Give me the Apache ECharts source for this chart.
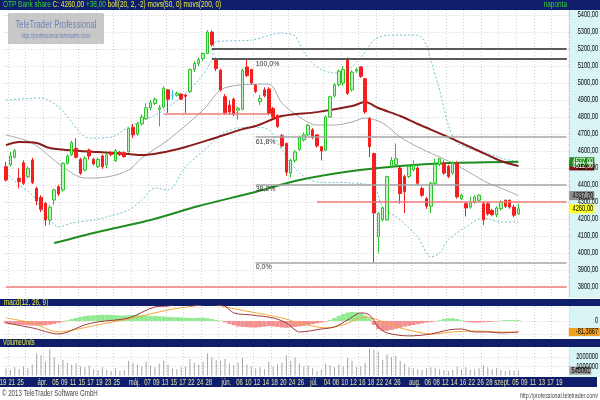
<!DOCTYPE html>
<html><head><meta charset="utf-8">
<script src="https://cdn.jsdelivr.net/npm/echarts@6/dist/echarts.min.js"></script>
<style>html,body{margin:0;padding:0;background:#fff}#c{width:600px;height:400px}</style>
</head><body><div id="c"></div>
<script>
const FONT = '"Liberation Sans",Arial,sans-serif';

// ---- categories (trading days, 2013) ----
const tradingDays = {
  '03': [19,20,21,22,25,26,27,28,29],
  '04': [2,3,4,5,8,9,10,11,12,15,16,17,18,19,22,23,24,25,26,29,30],
  '05': [2,3,6,7,8,9,10,13,14,15,16,17,21,22,23,24,27,28,29,30,31],
  '06': [3,4,5,6,7,10,11,12,13,14,17,18,19,20,21,24,25,26,27,28],
  '07': [1,2,3,4,5,8,9,10,11,12,15,16,17,18,19,22,23,24,25,26,29,30,31],
  '08': [1,2,5,6,7,8,9,12,13,14,15,16,21,22,23,26,27,28,29,30],
  '09': [2,3,4,5,6,9,10,11,12,13,16,17,18,19,20]
};
const tickDates = ['03-19','03-21','03-25','04-02','04-05','04-09','04-11','04-15','04-17','04-19','04-23','04-25',
  '05-02','05-07','05-09','05-13','05-15','05-17','05-22','05-24','05-28',
  '06-03','06-06','06-10','06-12','06-14','06-18','06-20','06-24','06-26',
  '07-01','07-04','07-08','07-10','07-12','07-16','07-18','07-22','07-24','07-26',
  '08-01','08-06','08-08','08-12','08-14','08-16','08-22','08-26','08-28',
  '09-02','09-05','09-09','09-11','09-13','09-17','09-19'];
const tickTexts = ['19','21','25','ápr.','05','09','11','15','17','19','23','25',
  'máj.','07','09','13','15','17','22','24','28',
  'jún.','06','10','12','14','18','20','24','26',
  'júl.','04','08','10','12','16','18','22','24','26',
  'aug.','06','08','12','14','16','22','26','28',
  'szept.','05','09','11','13','17','19'];
const priceTicks = [3800,3900,4000,4100,4200,4300,4400,4500,4600,4700,4800,4900,5000,5100,5200,5300,5400];
const macdTicks = [0];
const volumeTicks = [1000000, 2000000];

// ---- OHLC: [open, close, low, high] ----
const ohlc = [
 [4508,4429,4420,4537],[4518,4571,4508,4596],[4563,4602,4557,4612],[4440,4420,4380,4498],[4531,4410,4400,4545],
 [4449,4498,4440,4510],[4547,4414,4405,4560],[4380,4306,4280,4390],[4327,4257,4240,4340],[4292,4194,4160,4300],
 [4194,4269,4165,4282],[4312,4371,4283,4380],[4390,4347,4335,4400],[4371,4527,4360,4535],[4527,4571,4520,4580],
 [4577,4649,4570,4660],[4616,4563,4557,4675],[4551,4469,4460,4560],[4488,4557,4480,4570],[4606,4571,4550,4615],
 [4551,4524,4515,4560],[4508,4551,4500,4560],[4571,4508,4495,4580],[4518,4577,4500,4590],[4590,4578,4570,4600],
 [4543,4602,4535,4612],[4592,4578,4570,4600],[4590,4567,4560,4598],[4596,4733,4590,4740],[4740,4695,4675,4760],
 [4700,4760,4690,4770],[4760,4800,4750,4815],[4790,4855,4785,4880],[4855,4885,4840,4900],[4880,4905,4870,4915],
 [4845,4855,4745,4870],[4860,4970,4850,4980],[4960,4905,4825,4965],[4930,4930,4900,4960],[4928,4940,4920,4950],
 [4935,4905,4900,4940],[4930,4922,4825,4935],[4950,5080,4940,5085],[5080,5115,5065,5130],[5116,5139,5100,5150],
 [5145,5174,5130,5180],[5174,5300,5170,5312],[5300,5225,5215,5310],[5140,5085,5070,5150],[5076,4960,4950,5085],
 [4920,4825,4815,4935],[4870,4830,4815,4900],[4905,4815,4805,4915],[4840,4852,4785,4860],[4845,5075,4840,5085],
 [5095,5045,5035,5140],[5080,5000,4990,5085],[4988,4950,4940,4995],[4890,4910,4870,4930],[4960,4925,4915,4975],
 [4965,4822,4810,4975],[4850,4800,4790,4860],[4810,4745,4735,4815],[4690,4630,4620,4700],[4645,4475,4455,4650],
 [4470,4545,4445,4555],[4545,4595,4530,4605],[4610,4680,4600,4690],[4665,4695,4655,4710],[4695,4750,4690,4760],
 [4725,4680,4670,4735],[4695,4630,4620,4700],[4625,4600,4545,4630],[4605,4800,4600,4810],[4800,4920,4795,4925],
 [4925,4990,4915,5000],[4990,5070,4980,5080],[5000,5080,4985,5100],[5135,4940,4930,5150],[4960,5065,4950,5075],
 [5070,5080,5060,5090],[5095,5040,5030,5100],[5025,4830,4820,5030],[4790,4625,4565,4800],[4585,4235,3945,4590],
 [4096,4233,3998,4240],[4195,4265,4185,4275],[4195,4450,4190,4455],[4510,4545,4500,4565],[4520,4555,4510,4645],
 [4500,4350,4290,4510],[4450,4360,4235,4460],[4450,4510,4440,4520],[4490,4517,4480,4545],[4500,4410,4400,4510],
 [4380,4340,4330,4390],[4320,4275,4260,4330],[4275,4410,4235,4420],[4410,4520,4400,4555],[4520,4555,4510,4560],
 [4530,4470,4460,4545],[4510,4450,4440,4520],[4470,4530,4460,4540],[4530,4330,4320,4540],[4320,4340,4310,4350],
 [4290,4265,4215,4300],[4270,4295,4260,4330],[4300,4330,4290,4340],[4310,4340,4300,4345],[4290,4195,4165,4300],
 [4290,4230,4220,4300],[4250,4225,4215,4260],[4225,4265,4210,4275],[4260,4300,4250,4310],[4310,4275,4265,4315],
 [4310,4270,4260,4315],[4270,4222,4210,4285],[4230,4260,4225,4290]
];

// ---- indicator lines: [dayIndex, value] ----
const bbUpper = [[0,4900],[8,4912],[12,4859],[15,4771],[17,4706],[19,4676],[24,4682],[28,4741],[35,4824],[40,4918],
 [44,5018],[47,5135],[48,5241],[56,5253],[63,5294],[66,5276],[68,5182],[71,5094],[75,5059],[78,5076],[80,5124],
 [82,5182],[84,5253],[87,5282],[94,5282],[96,5224],[97,5135],[99,4959],[101,4753],[103,4647],[109,4594],[113,4559],[117,4535]];
const bbLower = [[0,4471],[3,4400],[6,4341],[8,4265],[10,4194],[12,4153],[15,4176],[20,4194],[23,4212],[28,4253],
 [31,4312],[34,4382],[37,4371],[41,4506],[46,4624],[50,4712],[56,4741],[60,4724],[63,4606],[67,4471],[71,4418],
 [79,4412],[84,4388],[86,4271],[90,4194],[94,4094],[97,3977],[99,4000],[101,4077],[105,4153],[109,4206],[113,4182],[117,4182]];
const bbMiddle = [[0,4694],[6,4647],[13,4506],[18,4441],[23,4447],[28,4488],[31,4559],[37,4665],[45,4841],[49,4959],
 [53,4988],[60,4994],[63,4882],[67,4800],[71,4753],[75,4753],[79,4771],[82,4794],[86,4765],[90,4682],[94,4624],
 [98,4576],[102,4529],[106,4471],[110,4412],[113,4382],[117,4337.7]];
const ma50 = [[0,4635],[3,4653],[7,4647],[10,4618],[17,4600],[21,4594],[28,4582],[31,4576],[35,4588],[41,4624],
 [47,4671],[54,4729],[57,4747],[63,4806],[71,4829],[79,4865],[82,4888],[85,4853],[90,4806],[94,4759],[101,4682],
 [109,4588],[113,4541],[117,4512.3]];
const ma200 = [[11,4059],[21,4124],[33,4194],[44,4276],[56,4353],[67,4429],[79,4482],[90,4512],[101,4529],[117,4537]];

// ---- horizontal study lines ----
const darkLevels = [5200, 5141];
const fibLevels = [5141, 4682, 4400, 3941];
const fibTexts = ['100,0%', '61,8%', '38,2%', '0,0%'];
const redLevels = [4822, 4300, 3800];
const redFrom = [36, 71, 0];
const redTo = [60, 128, 128];

// ---- MACD panel ----
const macdHist = [-18,-22,-26,-28,-30,-32,-34,-35,-34,-32,-28,-22,-14,-5,
 6,14,22,30,36,40,42,44,45,45,44,42,40,40,42,44,44,42,40,38,36,34,32,30,28,27,26,24,22,22,24,24,20,14,8,3,
 -10,-22,-32,-40,-44,-46,-48,-48,-46,-42,-38,-40,-44,-48,-50,-48,-44,-40,-36,-30,-24,-18,-12,-5,
 8,22,38,52,62,66,64,55,40,20,
 -30,-60,-75,-72,-66,-58,-50,-42,-36,-30,-24,-18,-12,-8,-3,
 6,14,20,20,14,6,
 -6,-10,-12,-12,-10,-8,-6,-3,
 3,6,8,8,6];
const macdLine = [[0,-15],[6,-51],[12,-96],[18,-29],[21,-7],[28,22],[34,103],[37,110],[42,140],[47,140],[50,110],
 [52,59],[56,44],[61,22],[64,-15],[66,-66],[67,-81],[72,-59],[75,-44],[78,7],[81,59],[83,44],[85,-44],[87,-88],
 [92,-110],[97,-96],[101,-66],[104,-59],[107,-81],[110,-81],[113,-88],[117,-81.3867]];
const signalLine = [[0,22],[6,-15],[12,-81],[14,-74],[21,-29],[29,22],[37,81],[43,110],[47,125],[50,103],[56,66],
 [63,22],[67,-15],[73,-51],[77,-29],[82,29],[85,7],[90,-51],[95,-88],[97,-96],[102,-81],[107,-74],[113,-81],[117,-81]];

// ---- volume ----
const volume = [800000,600000,900000,700000,1000000,800000,1200000,2400000,2200000,1500000,
 2900000,2000000,1200000,1700000,1400000,1200000,1300000,1000000,900000,1100000,
 700000,600000,900000,600000,500000,800000,500000,600000,1600000,1400000,
 1200000,1000000,1500000,1100000,900000,1300000,1600000,1200000,800000,700000,
 900000,1000000,1800000,1400000,1200000,1500000,2400000,2000000,1700000,1600000,
 1800000,1300000,1100000,1400000,1900000,1200000,1000000,800000,900000,700000,
 1500000,1000000,1200000,1400000,2200000,1600000,1900000,1300000,1000000,1100000,
 800000,500000,700000,1300000,1100000,900000,1200000,1000000,1900000,1600000,
 900000,1000000,1400000,2900000,2800000,2600000,1700000,2300000,2000000,2100000,
 1600000,1300000,900000,800000,700000,600000,800000,900000,800000,700000,
 600000,500000,600000,1000000,700000,900000,600000,700000,800000,1100000,
 900000,700000,800000,600000,500000,600000,550000,545061];

// ================= build =================
const days = [];
Object.keys(tradingDays).forEach(m => tradingDays[m].forEach(d => days.push(m + '-' + String(d).padStart(2, '0'))));

const NAVY = '#0f1e6a', CYAN = '#d8f4f4', GRIDC = '#d2d2d2';
const SLOT = 4.38;
const GL = 3.8, GW = SLOT * days.length;
const fmt2 = v => v.toFixed(2).replace('.', ',');

function xAx(gi) {
  return {
    type: 'category', gridIndex: gi, data: days, boundaryGap: true,
    axisLine: {show: false}, axisTick: {show: false}, axisLabel: {show: false},
    splitLine: {show: true, interval: (i) => i % 4 === 1, lineStyle: {color: GRIDC, type: [1, 2], width: 1}}
  };
}
function yAx(gi, min, max, ticks) {
  return {
    type: 'value', gridIndex: gi, position: 'right', min, max, scale: true,
    axisLine: {show: false},
    axisTick: {show: false, customValues: ticks},
    axisLabel: {show: false},
    splitLine: {show: true, lineStyle: {color: GRIDC, type: [1, 2], width: 1}}
  };
}

const markData = [];
darkLevels.forEach(v => markData.push([{coord: [47, v], lineStyle: {color: '#5a5a5a', width: 2, type: 'solid'}, label: {show: false}}, {coord: [128, v]}]));
fibLevels.forEach((v, k) => markData.push([{coord: [57, v], lineStyle: {color: k === 0 ? '#5a5a5a' : '#a4a4a4', width: k === 0 ? 2 : 1.5, type: 'solid'},
  label: {show: true, formatter: fibTexts[k], position: 'insideStartBottom', distance: [0, 1], fontSize: 7, color: '#333', fontFamily: FONT}}, {coord: [128, v]}]));
redLevels.forEach((v, k) => markData.push([{coord: [redFrom[k], v], lineStyle: {color: '#f07a7a', width: 1.5, type: 'solid'}, label: {show: false}}, {coord: [redTo[k], v]}]));

const lineS = (data, color, width, type, z) => ({
  type: 'line', xAxisIndex: 0, yAxisIndex: 0, data, showSymbol: false, symbol: 'none', smooth: 0.3,
  lineStyle: {color, width, type}, z, silent: true, connectNulls: true
});

const option = {
  animation: false,
  grid: [
    {left: GL, width: GW, top: 10, height: 288},
    {left: GL, width: GW, top: 306, height: 31},
    {left: GL, width: GW, top: 347, height: 30}
  ],
  xAxis: [xAx(0), xAx(1), xAx(2)],
  yAxis: [
    yAx(0, 3735, 5430, priceTicks),
    yAx(1, -118, 110, [-100, 0, 100]),
    yAx(2, -150000, 3100000, volumeTicks)
  ],
  series: [
    lineS(bbUpper, '#6cc2cc', 1, [2, 2], 1),
    lineS(bbLower, '#6cc2cc', 1, [2, 2], 1),
    lineS(bbMiddle, '#a8a8a8', 1, 'solid', 1),
    lineS(ma200, '#1f8c1f', 2, 'solid', 2),
    lineS(ma50, '#8a1c1c', 2, 'solid', 2),
    {
      type: 'candlestick', xAxisIndex: 0, yAxisIndex: 0, data: ohlc, barWidth: 3, z: 3, silent: true,
      itemStyle: {color: '#c4f2c4', color0: '#f42020', borderColor: '#28c428', borderColor0: '#f42020', borderColorDoji: '#30c8e0', borderWidth: 1},
      markLine: {symbol: ['none', 'none'], silent: true, animation: false, data: markData}
    },
    {
      type: 'bar', xAxisIndex: 1, yAxisIndex: 1, data: macdHist, barCategoryGap: '0%', silent: true, z: 1,
      itemStyle: {color: p => p.value < 0 ? '#f49090' : '#90ea90'}
    },
    {type: 'line', xAxisIndex: 1, yAxisIndex: 1, data: signalLine, symbol: 'none', smooth: 0.3, lineStyle: {color: '#f4a838', width: 1}, z: 2, silent: true},
    {type: 'line', xAxisIndex: 1, yAxisIndex: 1, data: macdLine, symbol: 'none', smooth: 0.3, lineStyle: {color: '#9c3a3a', width: 1}, z: 3, silent: true},
    {type: 'bar', xAxisIndex: 2, yAxisIndex: 2, data: volume, barWidth: 1, silent: true, itemStyle: {color: '#a4a4a4'}}
  ]
};

const chart = echarts.init(document.getElementById('c'));
chart.setOption(option);

const last = ohlc.length - 1;
const py = (gi, v) => chart.convertToPixel({gridIndex: gi}, [last, v])[1];
const pxDay = (d) => chart.convertToPixel({gridIndex: 2}, [d, 0])[0];
const PX = GL + GW;
// text element; sx = horizontal squeeze to imitate the narrow bitmap font of the original
function txt(x, y, text, size, fill, align, sx, extra) {
  return Object.assign({type: 'text', x, y, z: 30, silent: true, scaleX: sx || 1,
    style: Object.assign({text, fill, fontSize: size, fontFamily: FONT, align: align || 'left', verticalAlign: 'middle'}, extra || {})});
}
function rect(x, y, w, h, fill, z) {
  return {type: 'rect', shape: {x, y, width: w, height: h}, style: {fill}, z: z == null ? -1 : z, silent: true};
}
function valueBox(gi, v, text, bg, fg) {
  const y = py(gi, v);
  return [rect(PX + 0.5, y - 4.5, 25, 9, bg, 25), txt(PX + 24.5, y, text, 8.5, fg, 'right', 0.68)];
}
const lastClose = ohlc[last][1];
const graphic = [
  rect(0, 0, 600, 10, NAVY),
  rect(PX, 10, 600 - PX, 288, CYAN),
  {type: 'line', shape: {x1: PX + 0.5, y1: 10, x2: PX + 0.5, y2: 298}, style: {stroke: '#c8c070', lineDash: [1, 1]}, z: 5, silent: true},
  rect(0, 299, 600, 7, NAVY),
  rect(PX, 306, 600 - PX, 31, CYAN),
  rect(0, 339, 600, 8, NAVY),
  rect(PX, 347, 600 - PX, 30, CYAN),
  rect(0, 377, 597, 10, NAVY),
  {type: 'text', x: 3, y: 5, z: 30, silent: true, scaleX: 0.76, style: {
    text: '{g|OTP Bank share} {y|C: 4260,00} {g|+38,00} {y|boll(20, 2, -2) movs(50, 0) movs(200, 0)}',
    fontSize: 8.5, fontFamily: FONT, verticalAlign: 'middle', fill: '#f0f040',
    rich: {g: {fill: '#38d038', fontSize: 8.5, fontFamily: FONT}, y: {fill: '#f0f040', fontSize: 8.5, fontFamily: FONT}}}},
  txt(567, 5, 'naponta', 8.5, '#38d038', 'right', 0.76),
  txt(4, 302.5, 'macd(12, 26, 9)', 8.5, '#f0f040', 'left', 0.74),
  txt(3, 343, 'VolumeUnits', 8.5, '#f0f040', 'left', 0.66),
  txt(2, 394, '© 2013 TeleTrader Software GmbH', 8.5, '#444', 'left', 0.72),
  txt(598, 396, 'http://professional.teletrader.com/', 8, '#444', 'right', 0.66),
  {type: 'rect', shape: {x: 8, y: 13, width: 96, height: 31, r: 1}, style: {fill: 'rgba(190,190,190,0.85)'}, z: 20, silent: true},
  txt(56, 25, 'TeleTrader Professional', 11, '#7080b4', 'center', 0.7),
  txt(56, 36, 'http://professional.teletrader.com/', 6.5, '#7080b4', 'center', 0.72, {fontStyle: 'italic'})
];
// price, macd and volume scale labels on the right panels
priceTicks.forEach(v => graphic.push(txt(598, py(0, v), fmt2(v), 8.5, '#000', 'right', 0.66)));
macdTicks.forEach(v => graphic.push(txt(598, py(1, v), String(v), 8.5, '#000', 'right', 0.66)));
volumeTicks.forEach(v => graphic.push(txt(598, py(2, v), String(v), 8.5, '#000', 'right', 0.66)));
// date labels on the bottom bar
tickDates.forEach((d, k) => {
  const idx = days.indexOf(d);
  graphic.push(txt(pxDay(idx) - 3, 382.5, tickTexts[k], 8.5, '#e6e2a8', 'center', 0.7));
});
graphic.push(...valueBox(0, ma50[ma50.length - 1][1], '4512,30', '#7a1010', '#fff'));
graphic.push(...valueBox(0, ma200[ma200.length - 1][1], fmt2(ma200[ma200.length - 1][1]), '#1f8c1f', '#fff'));
graphic.push(...valueBox(0, bbMiddle[bbMiddle.length - 1][1], fmt2(bbMiddle[bbMiddle.length - 1][1]), '#8c8c8c', '#111'));
graphic.push(...valueBox(0, lastClose, fmt2(lastClose), '#ffff20', '#000'));
{
  const v = macdLine[macdLine.length - 1][1], y = py(1, v);
  graphic.push(rect(PX, y - 4, 31, 8, '#f0a020', 25), txt(598, y, String(v).replace('.', ','), 8.5, '#000', 'right', 0.66));
}
{
  const v = volume[last], y = py(2, v);
  graphic.push(rect(PX + 0.5, y - 4, 22, 8, '#9a9a9a', 25), txt(PX + 21.5, y, String(v), 8.5, '#000', 'right', 0.66));
}
chart.setOption({graphic: graphic.map((g, i) => Object.assign({id: 'g' + i}, g))});
</script>
</body></html>
